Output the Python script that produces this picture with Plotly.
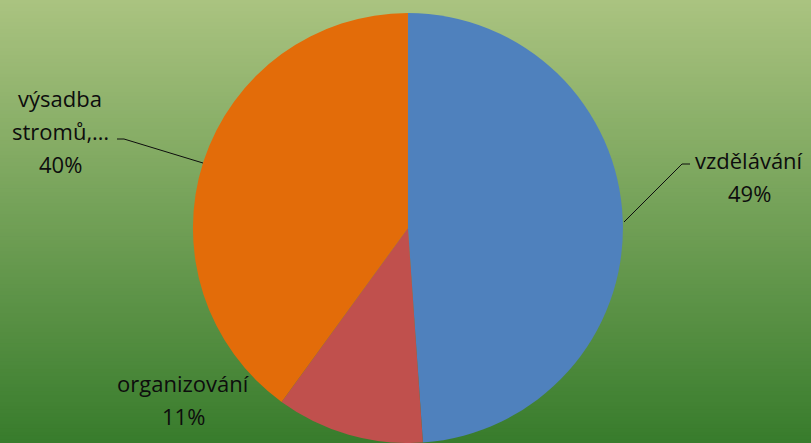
import plotly.graph_objects as go

# ---- data ----
categories = ["vzdělávání", "organizování", "výsadba stromů,…"]
values = [22, 5, 18]
label_lines = [["vzdělávání"], ["organizování"], ["výsadba", "stromů,…"]]
colors = ["#4F81BD", "#C0504D", "#E36C09"]

W, H = 811, 443
total = sum(values)
pcts = [f"{round(v * 100 / total)}%" for v in values]

fig = go.Figure()
fig.add_trace(go.Pie(
    labels=categories, values=values, sort=False, direction="clockwise",
    rotation=0, marker=dict(colors=colors, line=dict(width=0)),
    textinfo="none", hoverinfo="label+percent", showlegend=False,
    domain=dict(x=[0.006, 1.0], y=[0.0, 430 / 443]),
))

# gradient background strips
top = (170, 195, 128)
bot = (56, 124, 44)
n = 120
shapes = []
for i in range(n):
    t = i / (n - 1)
    c = tuple(int(round(top[k] + (bot[k] - top[k]) * t)) for k in range(3))
    shapes.append(dict(type="rect", xref="paper", yref="paper", layer="below",
                       x0=0, x1=1, y0=1 - (i + 1) / n - 0.002, y1=1 - i / n,
                       fillcolor=f"rgb{c}", line=dict(width=0)))

def px(x, y):
    return x / W, 1 - y / H

def leader(pts):
    d = ""
    for j, (x, y) in enumerate(pts):
        fx, fy = px(x, y)
        d += ("M" if j == 0 else "L") + f"{fx},{fy} "
    return dict(type="path", xref="paper", yref="paper", path=d, layer="above",
                line=dict(color="#0d0d0d", width=1))

shapes.append(leader([(690, 164), (682, 164), (624, 222)]))
shapes.append(leader([(117, 139), (124, 139), (203, 163)]))

# label positions (pixel centres of first line) and line spacing
label_pos = [(749, 160), (183, 383), (60, 98)]
spacing = 33
annotations = []
for i in range(len(categories)):
    lines = label_lines[i] + [pcts[i]]
    x0, y0 = label_pos[i]
    for j, ln in enumerate(lines):
        fx, fy = px(x0, y0 + j * spacing)
        annotations.append(dict(text=ln, x=fx, y=fy, xref="paper", yref="paper",
                                xanchor="center", yanchor="middle", showarrow=False,
                                font=dict(family="Open Sans", size=22, color="#0d0d0d")))

fig.update_layout(
    width=W, height=H, margin=dict(l=0, r=0, t=0, b=0),
    paper_bgcolor="#6a9e4e", plot_bgcolor="rgba(0,0,0,0)",
    shapes=shapes, annotations=annotations,
)
fig.write_html("out.html", config={"displayModeBar": False},
               post_script="document.body.style.margin='0';")
